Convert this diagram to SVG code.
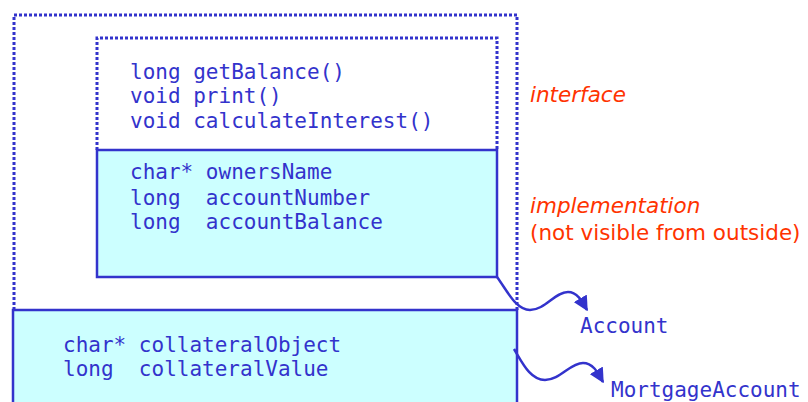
<svg xmlns="http://www.w3.org/2000/svg" width="808" height="402" viewBox="0 0 808 402">
  <defs>
    <style>
      .code { font-family: "DejaVu Sans Mono", "Liberation Mono", monospace; font-size: 21px; fill: #3333cc; white-space: pre; }
      .note { font-family: "DejaVu Sans", "Liberation Sans", sans-serif; font-size: 21.5px; fill: #ff3300; }
      .dotted { fill: none; stroke: #3333cc; stroke-width: 3; stroke-dasharray: 3 2; }
      .box { fill: #ccffff; stroke: #3333cc; stroke-width: 2.5; }
      .wire { fill: none; stroke: #3333cc; stroke-width: 2.5; }
    </style>
    <marker id="arrow" viewBox="0 0 10 10" refX="9" refY="5" markerWidth="6" markerHeight="6" orient="auto" markerUnits="strokeWidth">
      <path d="M0,0 L10,5 L0,10 z" fill="#3333cc"/>
    </marker>
  </defs>

  <!-- Account object boundary -->
  <g id="account-frame">
    <path class="dotted" d="M14,310 L14,15 L517,15 L517,310"/>
  </g>

  <!-- public interface -->
  <g id="interface">
    <path class="dotted" d="M97,150 L97,38 L497,38 L497,150"/>
    <text class="code" x="130" y="79">long getBalance()</text>
    <text class="code" x="130" y="103">void print()</text>
    <text class="code" x="130" y="128">void calculateInterest()</text>
  </g>

  <!-- private data -->
  <g id="implementation">
    <rect class="box" x="97" y="150" width="400" height="127"/>
    <text class="code" x="130" y="179" xml:space="preserve">char* ownersName</text>
    <text class="code" x="130" y="205" xml:space="preserve">long  accountNumber</text>
    <text class="code" x="130" y="229" xml:space="preserve">long  accountBalance</text>
  </g>

  <!-- derived class data -->
  <g id="mortgage">
    <rect class="box" x="13" y="310" width="504" height="100"/>
    <text class="code" x="63" y="352" xml:space="preserve">char* collateralObject</text>
    <text class="code" x="63" y="376" xml:space="preserve">long  collateralValue</text>
  </g>

  <!-- annotations -->
  <g id="labels">
    <text class="note" x="530" y="102" font-style="italic">interface</text>
    <text class="note" x="530" y="213" font-style="italic">implementation</text>
    <text class="note" x="530" y="240">(not visible from outside)</text>
    <text class="code" x="580" y="333">Account</text>
    <text class="code" x="611" y="397">MortgageAccount</text>
  </g>

  <!-- connectors -->
  <g id="connectors">
    <path class="wire" marker-end="url(#arrow)" d="M497,277 C508,292 516,310 530,310 C545,310 555,292 568,292 C578,292 583,303 587,310"/>
    <path class="wire" marker-end="url(#arrow)" d="M514,349 C522,362 530,380 545,380 C560,380 570,363 583,363 C594,363 599,375 603,382"/>
  </g>
</svg>
